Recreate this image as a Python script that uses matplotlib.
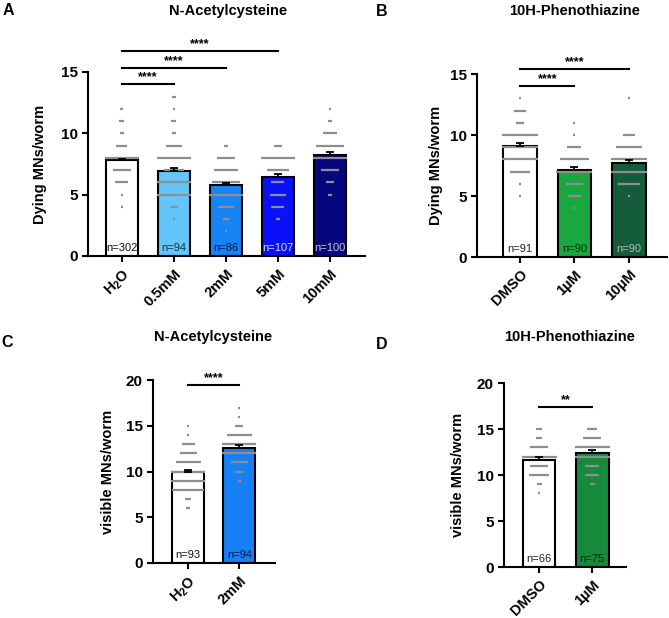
import matplotlib
matplotlib.use("Agg")
import matplotlib.pyplot as plt
import matplotlib.transforms as mtransforms

plt.rcParams["font.family"] = ["Liberation Sans", "DejaVu Sans"]
plt.rcParams["mathtext.fontset"] = "custom"
plt.rcParams["mathtext.rm"] = "Liberation Sans"
plt.rcParams["mathtext.bf"] = "Liberation Sans:bold"

# Panel A: N-Acetylcysteine, dying MNs
a_groups = [r"H$_\mathbf{2}$O", "0.5mM", "2mM", "5mM", "10mM"]
a_means = [7.82, 6.93, 5.76, 6.41, 8.26]
a_sem = [0.1, 0.27, 0.19, 0.27, 0.22]
a_n = [302, 94, 86, 107, 100]
a_dist = [
    {12: 8, 11: 12, 10: 10, 9: 28, 8: 85, 7: 45, 6: 32, 5: 2, 4: 2},
    {13: 10, 12: 2, 11: 12, 10: 10, 9: 38, 8: 85, 7: 50, 6: 85, 5: 85, 4: 18, 3: 2},
    {9: 8, 8: 45, 7: 60, 6: 68, 5: 85, 4: 38, 3: 16, 2: 2},
    {9: 18, 8: 85, 7: 55, 6: 32, 5: 38, 4: 32, 3: 12},
    {12: 2, 11: 8, 10: 33, 9: 68, 8: 85, 7: 45, 6: 20, 5: 8},
]
a_colors = ["#ffffff", "#62c6fa", "#1684f4", "#0a10fc", "#06067e"]
a_ncolors = ["#111111", "#10304a", "#001a3a", "#d8d8ff", "#c4c4d8"]
a_sig = [(0, 1, "****"), (0, 2, "****"), (0, 3, "****")]

# Panel B: 10H-Phenothiazine, dying MNs
b_groups = ["DMSO", "1µM", "10µM"]
b_means = [9.1, 7.13, 7.7]
b_sem = [0.24, 0.22, 0.25]
b_n = [91, 90, 90]
b_dist = [
    {13: 2, 12: 30, 11: 20, 10: 85, 9: 85, 8: 85, 7: 45, 6: 2, 5: 2},
    {11: 2, 10: 2, 9: 33, 8: 70, 7: 85, 6: 38, 5: 30, 4: 3},
    {13: 2, 10: 27, 9: 62, 8: 85, 7: 85, 6: 50, 5: 3},
]
b_colors = ["#ffffff", "#19a840", "#145c3c"]
b_ncolors = ["#222222", "#0a2e10", "#b8b8b8"]
b_sig = [(0, 1, "****"), (0, 2, "****")]

# Panel C: N-Acetylcysteine, visible MNs
c_groups = [r"H$_\mathbf{2}$O", "2mM"]
c_means = [9.9, 12.57]
c_sem = [0.28, 0.28]
c_n = [93, 94]
c_dist = [
    {15: 2, 14: 2, 13: 33, 12: 42, 11: 62, 10: 85, 9: 85, 8: 80, 7: 16, 6: 10},
    {17: 2, 16: 3, 15: 20, 14: 62, 13: 85, 12: 85, 11: 42, 10: 20, 9: 8},
]
c_colors = ["#ffffff", "#1780f6"]
c_ncolors = ["#111111", "#001a3a"]
c_sig = [(0, 1, "****")]

# Panel D: 10H-Phenothiazine, visible MNs
d_groups = ["DMSO", "1µM"]
d_means = [11.63, 12.42]
d_sem = [0.28, 0.26]
d_n = [66, 75]
d_dist = [
    {15: 15, 14: 15, 13: 42, 12: 85, 11: 45, 10: 50, 9: 12, 8: 2},
    {15: 25, 14: 42, 13: 85, 12: 85, 11: 32, 10: 32, 9: 12},
]
d_colors = ["#ffffff", "#158a3a"]
d_ncolors = ["#222222", "#062a0a"]
d_sig = [(0, 1, "**")]

BAR_W = 0.62


def draw_panel(ax, groups, means, sem, n, dist, colors, ncolors, sig,
               ymax, ylabel, sig_base, sig_step, xlim, label_x):
    x = list(range(len(groups)))
    ax.bar(x, means, width=BAR_W, color=colors, edgecolor="black",
           linewidth=1.5, zorder=1)
    for xi, d in zip(x, dist):
        for v, c in d.items():
            w = max(min(c * 0.0078, BAR_W + 0.04), 0.035)
            ax.hlines(v, xi - w / 2, xi + w / 2, color="#8e8e8e",
                      linewidth=1.6, zorder=2)
    ax.errorbar(x, means, yerr=[[0] * len(x), sem], fmt="none",
                ecolor="black", elinewidth=1.3, capsize=3, capthick=1.3,
                zorder=3)
    trans = mtransforms.blended_transform_factory(ax.transData, ax.transAxes)
    for xi, nn, nc in zip(x, n, ncolors):
        ax.text(xi, 0.042, f"n={nn}", transform=trans, ha="center",
                va="center", fontsize=8, color=nc, zorder=4)
    for k, (i, j, s) in enumerate(sig):
        y = sig_base + k * sig_step
        ax.plot([i, j], [y, y], color="black", linewidth=1.5,
                clip_on=False)
        ax.annotate(s, xy=((i + j) / 2, y), xytext=(0, 0.5),
                    textcoords="offset points", ha="center", va="bottom",
                    fontsize=9, fontweight="bold", annotation_clip=False)
    ax.set_xlim(*xlim)
    ax.set_ylim(0, ymax)
    ax.set_yticks(range(0, ymax + 1, 5))
    ax.set_xticks(x)
    ax.set_xticklabels(groups, rotation=45, ha="right",
                       rotation_mode="anchor", fontweight="bold",
                       fontsize=10.5)
    for t in ax.get_yticklabels():
        t.set_fontweight("bold")
        t.set_fontsize(11)
    ax.set_ylabel(ylabel, fontweight="bold", fontsize=10.5)
    ax.yaxis.set_label_coords(label_x, 0.5)
    for side in ["top", "right"]:
        ax.spines[side].set_visible(False)
    for side in ["left", "bottom"]:
        ax.spines[side].set_linewidth(1.5)
    ax.tick_params(width=1.5, length=4)


fig = plt.figure(figsize=(6.69, 6.18), dpi=100)
ax_a = fig.add_axes([0.1315, 0.5858, 0.414, 0.2977])
ax_b = fig.add_axes([0.713, 0.5841, 0.284, 0.296])
ax_c = fig.add_axes([0.2287, 0.089, 0.1824, 0.296])
ax_d = fig.add_axes([0.7534, 0.0825, 0.1824, 0.2977])

draw_panel(ax_a, a_groups, a_means, a_sem, a_n, a_dist, a_colors, a_ncolors,
           a_sig, 15, "Dying MNs/worm", 14.0, 1.35, (-0.65, 4.67), -0.148)
draw_panel(ax_b, b_groups, b_means, b_sem, b_n, b_dist, b_colors, b_ncolors,
           b_sig, 15, "Dying MNs/worm", 14.0, 1.4, (-0.79, 2.7), -0.179)
draw_panel(ax_c, c_groups, c_means, c_sem, c_n, c_dist, c_colors, c_ncolors,
           c_sig, 20, "visible MNs/worm", 19.45, 0, (-0.69, 1.7), -0.31)
draw_panel(ax_d, d_groups, d_means, d_sem, d_n, d_dist, d_colors, d_ncolors,
           d_sig, 20, "visible MNs/worm", 17.4, 0, (-0.66, 1.64), -0.32)

fig.text(0.341, 0.983, "N-Acetylcysteine", ha="center", va="center",
         fontsize=10.5, fontweight="bold")
fig.text(0.859, 0.983, "10H-Phenothiazine", ha="center", va="center",
         fontsize=10.5, fontweight="bold")
fig.text(0.318, 0.4547, "N-Acetylcysteine", ha="center", va="center",
         fontsize=10.5, fontweight="bold")
fig.text(0.852, 0.4547, "10H-Phenothiazine", ha="center", va="center",
         fontsize=10.5, fontweight="bold")

for lx, ly, s in [(0.012, 0.983, "A"), (0.571, 0.982, "B"),
                  (0.011, 0.445, "C"), (0.571, 0.442, "D")]:
    fig.text(lx, ly, s, ha="center", va="center", fontsize=11.5,
             fontweight="bold")

fig.savefig("out.png", dpi=100)
